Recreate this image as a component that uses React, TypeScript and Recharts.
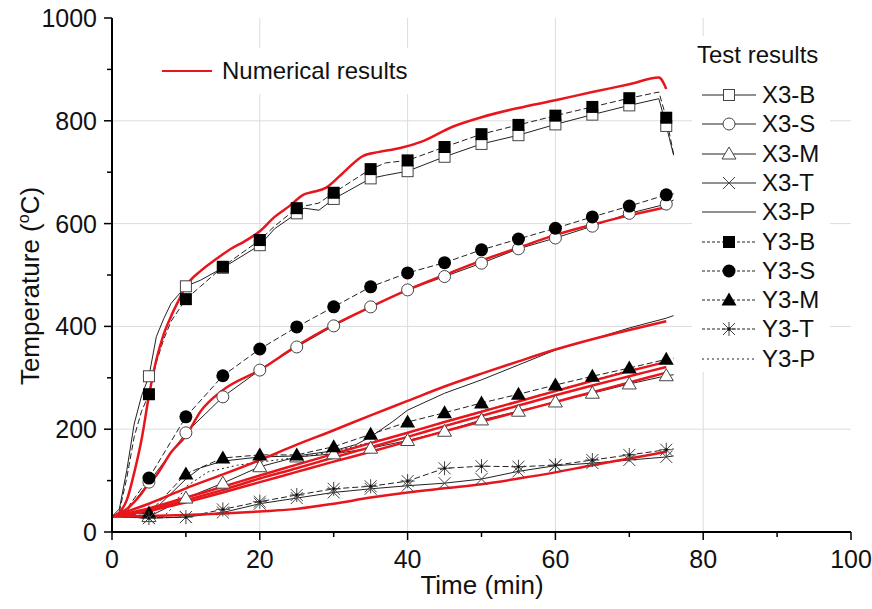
import { LineChart, Line, XAxis, YAxis, CartesianGrid } from 'recharts';

const FONT = '"Liberation Sans", Arial, sans-serif';
const RED = '#e8161c';
const INK = '#222';

// axis ticks
const X_TICKS = [0, 10, 20, 30, 40, 50, 60, 70, 80, 90, 100];
const Y_TICKS = [0, 100, 200, 300, 400, 500, 600, 700, 800, 900, 1000];

// test results (time in min, temperature in °C)
const T_B = [0, 1, 2, 3, 4, 5, 6, 7, 8, 10, 12, 15, 20, 22, 25, 26, 28, 30, 35, 37, 40, 45, 50, 55, 60, 65, 70, 74, 75, 76];
const X3_B = [30, 45, 120, 210, 265, 303, 380, 415, 445, 478, 490, 514, 558, 590, 620, 630, 626, 648, 688, 694, 702, 730, 755, 772, 793, 812, 830, 843, 790, 733];
const Y3_B = [28, 40, 105, 185, 235, 268, 330, 375, 410, 453, 478, 516, 568, 595, 630, 634, 640, 660, 706, 718, 723, 749, 774, 792, 810, 827, 844, 856, 806, 735];

const T_S = [0, 2, 5, 10, 15, 20, 25, 30, 35, 40, 45, 50, 55, 60, 65, 70, 75, 76];
const X3_S = [30, 40, 97, 193, 263, 315, 360, 401, 438, 471, 497, 523, 551, 572, 595, 620, 638, 646];
const Y3_S = [30, 45, 105, 224, 304, 356, 399, 438, 477, 504, 524, 549, 570, 591, 613, 634, 656, 658];

const T_M = [0, 5, 10, 15, 20, 25, 30, 35, 40, 45, 50, 55, 60, 65, 70, 75, 76];
const X3_M = [30, 30, 66, 95, 127, 146, 152, 163, 178, 196, 218, 235, 253, 270, 288, 304, 306];
const Y3_M = [30, 37, 113, 144, 150, 150, 166, 190, 214, 232, 251, 268, 286, 303, 319, 336, 338];
const X3_T = [30, 27, 29, 38, 55, 66, 77, 84, 90, 95, 103, 118, 129, 134, 140, 146, 148];
const Y3_T = [30, 27, 29, 44, 59, 72, 84, 89, 99, 124, 128, 127, 130, 140, 150, 160, 162];

const T_XP = [0, 5, 8, 10, 12, 15, 20, 25, 30, 33, 35, 38, 40, 45, 50, 55, 60, 65, 70, 75, 76];
const X3_P = [30, 33, 75, 103, 125, 138, 146, 148, 158, 170, 185, 215, 237, 270, 296, 325, 354, 375, 397, 416, 421];
const T_YP = [0, 5, 7, 8, 10, 13, 17, 20, 25, 30, 35, 40, 45, 50, 55, 60, 65, 70, 75, 76];
const Y3_P = [30, 29, 30, 45, 88, 117, 130, 136, 145, 156, 175, 192, 214, 235, 255, 275, 295, 315, 330, 333];

// numerical results
const T_NB = [0, 1, 2, 3, 4, 5, 6, 7, 8, 9, 10, 12, 14, 16, 18, 20, 22, 24, 26, 27, 29, 31, 34, 36, 39, 42, 46, 50, 55, 60, 65, 70, 74, 75];
const NUM_B = [30, 38, 62, 115, 180, 265, 335, 385, 420, 450, 478, 508, 530, 550, 566, 585, 613, 634, 657, 661, 670, 695, 732, 739, 747, 760, 788, 807, 825, 840, 856, 871, 884, 862];
const T_NS = [0, 2, 4, 5, 6, 8, 10, 12, 15, 20, 25, 30, 35, 40, 45, 50, 55, 60, 65, 70, 75];
const NUM_S = [30, 45, 75, 95, 110, 155, 187, 235, 276, 315, 362, 403, 438, 471, 500, 528, 553, 578, 598, 616, 632];
const T_N = [0, 5, 10, 15, 20, 25, 30, 35, 40, 45, 50, 55, 60, 65, 70, 75];
const NUM_P = [30, 55, 85, 112, 140, 170, 198, 227, 255, 283, 308, 332, 355, 375, 393, 410];
const NUM_M1 = [30, 46, 67, 88, 110, 131, 152, 173, 193, 214, 234, 254, 274, 294, 313, 331];
const NUM_M2 = [30, 43, 62, 82, 104, 124, 145, 165, 185, 206, 226, 246, 266, 285, 303, 321];
const NUM_M3 = [30, 41, 58, 77, 97, 117, 137, 156, 176, 196, 215, 234, 253, 272, 291, 310];
const NUM_T = [30, 31, 33, 36, 40, 45, 55, 67, 77, 85, 93, 104, 116, 130, 143, 156];

const pts = (ts: number[], vs: number[]) => ts.map((t, i) => ({ t, v: vs[i] }));

type Shape = 'sqOpen' | 'sqFill' | 'ciOpen' | 'ciFill' | 'triOpen' | 'triFill' | 'cross' | 'star' | 'none';

const Marker = ({ shape, cx, cy }: { shape: Shape; cx: number; cy: number }) => {
  switch (shape) {
    case 'sqOpen':
      return <rect x={cx - 5.5} y={cy - 5.5} width={11} height={11} fill="#fff" stroke="#444" strokeWidth={1} />;
    case 'sqFill':
      return <rect x={cx - 6} y={cy - 6} width={12} height={12} fill="#000" />;
    case 'ciOpen':
      return <circle cx={cx} cy={cy} r={6} fill="#fff" stroke="#444" strokeWidth={1} />;
    case 'ciFill':
      return <circle cx={cx} cy={cy} r={6.5} fill="#000" />;
    case 'triOpen':
      return <polygon points={`${cx},${cy - 7} ${cx - 7},${cy + 5} ${cx + 7},${cy + 5}`} fill="#fff" stroke="#444" strokeWidth={1} />;
    case 'triFill':
      return <polygon points={`${cx},${cy - 7.5} ${cx - 7.5},${cy + 5.5} ${cx + 7.5},${cy + 5.5}`} fill="#000" />;
    case 'cross':
      return (
        <g stroke="#444" strokeWidth={1}>
          <line x1={cx - 6} y1={cy - 6} x2={cx + 6} y2={cy + 6} />
          <line x1={cx - 6} y1={cy + 6} x2={cx + 6} y2={cy - 6} />
        </g>
      );
    case 'star':
      return (
        <g stroke="#444" strokeWidth={1}>
          <line x1={cx} y1={cy - 7} x2={cx} y2={cy + 7} />
          <line x1={cx - 6} y1={cy - 6} x2={cx + 6} y2={cy + 6} />
          <line x1={cx - 6} y1={cy + 6} x2={cx + 6} y2={cy - 6} />
          <line x1={cx - 7} y1={cy} x2={cx + 7} y2={cy} />
          <circle cx={cx} cy={cy} r={1.5} fill="#000" />
        </g>
      );
    default:
      return null;
  }
};

const dotFor = (shape: Shape) => (p: any) => {
  const { cx, cy, payload, index } = p;
  if (shape === 'none' || payload.t === 0 || payload.t % 5 !== 0) return <g key={`d-${index}`} />;
  return (
    <g key={`d-${index}`}>
      <Marker shape={shape} cx={cx} cy={cy} />
    </g>
  );
};

const tests = [
  { name: 'X3-B', data: pts(T_B, X3_B), shape: 'sqOpen' as Shape, dash: undefined },
  { name: 'X3-S', data: pts(T_S, X3_S), shape: 'ciOpen' as Shape, dash: undefined },
  { name: 'X3-M', data: pts(T_M, X3_M), shape: 'triOpen' as Shape, dash: undefined },
  { name: 'X3-T', data: pts(T_M, X3_T), shape: 'cross' as Shape, dash: undefined },
  { name: 'X3-P', data: pts(T_XP, X3_P), shape: 'none' as Shape, dash: undefined },
  { name: 'Y3-B', data: pts(T_B, Y3_B), shape: 'sqFill' as Shape, dash: '6 3' },
  { name: 'Y3-S', data: pts(T_S, Y3_S), shape: 'ciFill' as Shape, dash: '6 3' },
  { name: 'Y3-M', data: pts(T_M, Y3_M), shape: 'triFill' as Shape, dash: '6 3' },
  { name: 'Y3-T', data: pts(T_M, Y3_T), shape: 'star' as Shape, dash: '6 3' },
  { name: 'Y3-P', data: pts(T_YP, Y3_P), shape: 'none' as Shape, dash: '2 3' },
];

const numerical = [
  pts(T_NB, NUM_B),
  pts(T_NS, NUM_S),
  pts(T_N, NUM_P),
  pts(T_N, NUM_M1),
  pts(T_N, NUM_M2),
  pts(T_N, NUM_M3),
  pts(T_N, NUM_T),
];

const XTick = (props: any) => {
  const { x, y, payload } = props;
  const major = payload.value % 20 === 0;
  return (
    <g>
      <line x1={x} x2={x} y1={y} y2={y + (major ? 8 : 5)} stroke="#000" strokeWidth={1.5} />
      {major && (
        <text x={x} y={y + 36} textAnchor="middle" fontSize={25} fontFamily={FONT} fill="#111">
          {payload.value}
        </text>
      )}
    </g>
  );
};

const YTick = (props: any) => {
  const { x, y, payload } = props;
  const major = payload.value % 200 === 0;
  return (
    <g>
      <line x1={x} x2={x - (major ? 8 : 5)} y1={y} y2={y} stroke="#000" strokeWidth={1.5} />
      {major && (
        <text x={x - 15} y={y + 9} textAnchor="end" fontSize={25} fontFamily={FONT} fill="#111">
          {payload.value}
        </text>
      )}
    </g>
  );
};

const LegendSample = ({ shape, dash }: { shape: Shape; dash?: string }) => (
  <svg width={56} height={20} style={{ display: 'block' }}>
    <line x1={1} x2={55} y1={10} y2={10} stroke={INK} strokeWidth={1} strokeDasharray={dash === '6 3' ? '3 2' : dash} />
    <Marker shape={shape} cx={28} cy={10} />
  </svg>
);

const App = () => (
  <div style={{ position: 'absolute', left: 0, top: 0, width: 872, height: 609, background: '#fff', fontFamily: FONT }}>
    <LineChart width={872} height={609} margin={{ top: 18, right: 21, bottom: 7, left: 0 }}>
      <CartesianGrid stroke="#dcdcdc" verticalValues={[20, 40, 60, 80]} horizontalValues={[200, 400, 600, 800]} />
      <XAxis
        type="number"
        dataKey="t"
        domain={[0, 100]}
        ticks={X_TICKS}
        interval={0}
        tickLine={false}
        tickSize={0}
        tickMargin={0}
        axisLine={{ stroke: '#000', strokeWidth: 2 }}
        tick={<XTick />}
        height={70}
        allowDataOverflow
        label={{
          content: () => (
            <text x={482} y={594} textAnchor="middle" fontSize={26} fontFamily={FONT} fill="#111">
              Time (min)
            </text>
          ),
        }}
      />
      <XAxis xAxisId="top" orientation="top" type="number" domain={[0, 100]} tick={false} tickLine={false} height={0} axisLine={{ stroke: '#000', strokeWidth: 1.5 }} />
      <YAxis
        type="number"
        domain={[0, 1000]}
        ticks={Y_TICKS}
        interval={0}
        tickLine={false}
        tickSize={0}
        tickMargin={0}
        axisLine={{ stroke: '#000', strokeWidth: 2 }}
        tick={<YTick />}
        width={112}
        allowDataOverflow
        label={{
          content: () => (
            <text transform="translate(39,286) rotate(-90)" textAnchor="middle" fontSize={26} fontFamily={FONT} fill="#111">
              Temperature (
              <tspan dy={-10} fontSize={16}>o</tspan>
              <tspan dy={10}>C)</tspan>
            </text>
          ),
        }}
      />
      <YAxis yAxisId="right" orientation="right" type="number" domain={[0, 1000]} tick={false} tickLine={false} width={0} axisLine={{ stroke: '#000', strokeWidth: 1.5 }} />
      {tests.map((s) => (
        <Line
          key={s.name}
          data={s.data}
          dataKey="v"
          type="linear"
          stroke={INK}
          strokeWidth={1}
          strokeDasharray={s.dash}
          dot={dotFor(s.shape)}
          activeDot={false}
          isAnimationActive={false}
        />
      ))}
      {numerical.map((d, i) => (
        <Line
          key={`num-${i}`}
          data={d}
          dataKey="v"
          type="monotone"
          stroke={RED}
          strokeWidth={2.5}
          dot={false}
          activeDot={false}
          isAnimationActive={false}
        />
      ))}
    </LineChart>

    <div style={{ position: 'absolute', left: 150, top: 48, width: 265, height: 46, background: '#fff', display: 'flex', alignItems: 'center' }}>
      <div style={{ width: 50, height: 0, borderTop: `2.5px solid ${RED}`, marginLeft: 12 }} />
      <span style={{ marginLeft: 10, fontSize: 24, color: '#111', whiteSpace: 'nowrap' }}>Numerical results</span>
    </div>

    <div style={{ position: 'absolute', left: 692, top: 36, width: 138, height: 336, background: '#fff' }}>
      <div style={{ position: 'absolute', left: 5, top: 5, fontSize: 24, color: '#111', whiteSpace: 'nowrap' }}>Test results</div>
      {tests.map((s, i) => (
        <div key={s.name} style={{ position: 'absolute', left: 9, top: 47 + i * 29.3, height: 24, display: 'flex', alignItems: 'center' }}>
          <LegendSample shape={s.shape} dash={s.dash} />
          <span style={{ marginLeft: 5, fontSize: 24, color: '#111', lineHeight: '24px', whiteSpace: 'nowrap' }}>{s.name}</span>
        </div>
      ))}
    </div>
  </div>
);

export default App;
